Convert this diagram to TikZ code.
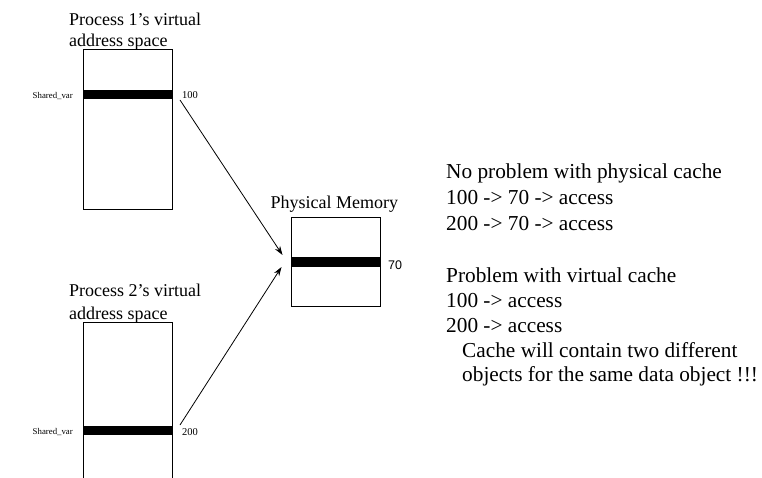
\documentclass[tikz,border=0pt]{standalone}
\usepackage{fontspec}
\setmainfont{Liberation Serif}
\newfontfamily\labelsans{Liberation Sans}
\usetikzlibrary{arrows.meta}

\begin{document}
\begin{tikzpicture}[x=1pt,y=-1pt,
  heading/.style={anchor=base west, inner sep=0pt, font=\fontsize{18}{21}\selectfont},
  note/.style={anchor=base west, inner sep=0pt, font=\fontsize{21.3}{25}\selectfont},
  addr/.style={anchor=base west, inner sep=0pt, font=\fontsize{10.5}{12}\selectfont},
  varname/.style={anchor=base east, inner sep=0pt, font=\fontsize{8.8}{10}\selectfont},
  membox/.style={draw, line width=1pt, inner sep=0pt, minimum width=89pt},
  slot/.style={fill=black, inner sep=0pt, minimum width=89pt},
  mapping/.style={line width=0.8pt, -{Stealth[length=9pt,width=6pt]}}]

\useasboundingbox (0,0) rectangle (762,478);
\clip (0,0) rectangle (762,478);

% Process 1's virtual address space
\node[heading] (t1a) at (69,25.5) {Process 1’s virtual};
\node[heading] (t1b) at (69,47) {address space};
\node[membox, minimum height=160pt] (vs1) at (127.5,130) {};
\node[slot, minimum height=9pt] (bar1) at (127.5,94.5) {};
\node[varname] (sv1) at (73,98.5) {Shared\_var};
\node[addr] (a100) at (182,99) {100};

% Process 2's virtual address space (runs off the bottom edge)
\node[heading] (t2a) at (69,296.5) {Process 2’s virtual};
\node[heading] (t2b) at (69,319) {address space};
\node[membox, minimum height=178pt] (vs2) at (127.5,411) {};
\node[slot, minimum height=9pt] (bar2) at (127.5,430) {};
\node[varname] (sv2) at (73,434) {Shared\_var};
\node[addr] (a200) at (182,435) {200};

% Physical memory
\node[heading] (tpm) at (270.5,208.5) {Physical Memory};
\node[membox, minimum height=88pt] (pm) at (335.5,262) {};
\node[slot, minimum height=10pt] (barpm) at (335.5,262) {};
\node[anchor=base west, inner sep=0pt, font=\labelsans\fontsize{12.5}{14}\selectfont] (a70) at (388,269) {70};

% Address translations
\coordinate (from1) at (180,100);
\coordinate (from2) at (180,425);
\draw[mapping] (from1) -- ([shift={(-8,-7)}]pm.west);
\draw[mapping] (from2) -- ([shift={(-9,5)}]pm.west);

% Notes
\node[note] (n1) at (446,179) {No problem with physical cache};
\node[note] (n2) at (446,205) {100 -> 70 -> access};
\node[note] (n3) at (446,230) {200 -> 70 -> access};
\node[note] (n4) at (446,282) {Problem with virtual cache};
\node[note] (n5) at (446,307) {100 -> access};
\node[note] (n6) at (446,332) {200 -> access};
\node[note] (n7) at (462,357) {Cache will contain two different};
\node[note] (n8) at (462,381) {objects for the same data object !!!};
\end{tikzpicture}
\end{document}
